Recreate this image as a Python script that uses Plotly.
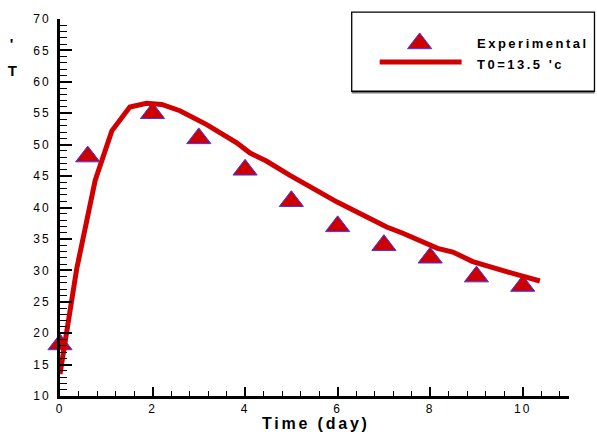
import plotly.graph_objects as go

# Measured temperatures (triangles)
time_exp = [0, 0.6, 2, 3, 4, 5, 6, 7, 8, 9, 10]
temp_exp = [18.2, 48.1, 55.0, 51.0, 46.0, 41.0, 37.0, 34.0, 32.0, 29.0, 27.5]

# Simulated curve for initial temperature T0 = 13.5 'c
time_model = [0, 0.36, 0.76, 1.12, 1.51, 1.87, 2.2, 2.59, 3.17, 3.82, 4.1, 4.46,
              4.97, 5.22, 5.62, 5.98, 6.33, 6.7, 7.06, 7.41, 7.99, 8.16, 8.49,
              8.92, 9.65, 10.37]
temp_model = [13.5, 30.2, 44.3, 52.2, 56.0, 56.6, 56.4, 55.4, 53.2, 50.3, 48.7,
              47.4, 45.1, 44.0, 42.4, 40.9, 39.6, 38.2, 36.9, 35.9, 34.1, 33.5,
              32.9, 31.4, 29.8, 28.3]

x_ticks = [0, 2, 4, 6, 8, 10]
y_ticks = [10, 15, 20, 25, 30, 35, 40, 45, 50, 55, 60, 65, 70]
legend_labels = ["Experimental", "T0=13.5 'c"]
x_title = "Time (day)"
y_title = ["'", "T"]

FONT = "Liberation Sans, Arial, sans-serif"
RED = "#D00000"
TRI_FILL = "#CC0000"
TRI_EDGE = "#3A3AFF"

W, H = 597, 437
ML, MR, MT, MB = 60, 27.5, 15, 41
PW, PH = W - ML - MR, H - MT - MB


def px(x_pix, y_pix):
    """Window pixel -> paper coordinates."""
    return (x_pix - ML) / PW, (H - MB - y_pix) / PH


tri_marker = dict(symbol="triangle-up", size=21, color=TRI_FILL,
                  line=dict(color=TRI_EDGE, width=1))

fig = go.Figure()
fig.add_trace(go.Scatter(x=time_exp, y=temp_exp, mode="markers",
                         marker=tri_marker, cliponaxis=False,
                         name=legend_labels[0], showlegend=False))
fig.add_trace(go.Scatter(x=time_model, y=temp_model, mode="lines",
                         line=dict(color=RED, width=5), cliponaxis=False,
                         name=legend_labels[1], showlegend=False))

# Legend key: triangle sample drawn on an overlay axis spanning paper space
lx, ly = px(420, 39.7)
fig.add_trace(go.Scatter(x=[lx], y=[ly], mode="markers", marker=tri_marker,
                         xaxis="x2", yaxis="y2", cliponaxis=False,
                         showlegend=False, hoverinfo="skip"))

shapes = []
bx0, by0 = px(352, 88)
bx1, by1 = px(595, 8)
shapes.append(dict(type="rect", xref="paper", yref="paper", x0=bx0, y0=by0,
                   x1=bx1, y1=by1, line=dict(color="black", width=1.3),
                   fillcolor="white", layer="below"))
sx0, sy = px(380, 58.5)
sx1, _ = px(462, 58.5)
shapes.append(dict(type="line", xref="paper", yref="paper", x0=sx0, y0=sy,
                   x1=sx1, y1=sy, line=dict(color=RED, width=5)))
gy0 = px(352, 89.5)[1]
shapes.append(dict(type="line", xref="paper", yref="paper", x0=bx0, y0=gy0,
                   x1=bx1, y1=gy0, line=dict(color="#777777", width=1.5)))

annotations = []
for label, ypix in zip(legend_labels, [40, 61]):
    ax_, ay_ = px(475, ypix)
    annotations.append(dict(x=ax_, y=ay_, xref="paper", yref="paper",
                            text="<b>%s</b>" % label, showarrow=False,
                            xanchor="left", yanchor="middle", align="left",
                            font=dict(family=FONT, size=13, color="black")))
tx, ty = px(260, 424)
annotations.append(dict(x=tx, y=ty, xref="paper", yref="paper",
                        text="<b>%s</b>" % x_title, showarrow=False,
                        xanchor="left", yanchor="middle", align="left",
                        font=dict(family=FONT, size=16, color="black")))
for ch, ypix in zip(y_title, [40, 67]):
    ax_, ay_ = px(13, ypix)
    annotations.append(dict(x=ax_, y=ay_, xref="paper", yref="paper",
                            text="<b>%s</b>" % ch, showarrow=False,
                            xanchor="center", yanchor="middle",
                            font=dict(family=FONT, size=15, color="black")))

fig.update_layout(
    width=W, height=H,
    margin=dict(l=ML, r=MR, t=MT, b=MB, pad=0),
    paper_bgcolor="white", plot_bgcolor="white",
    font=dict(family=FONT, size=12, color="black"),
    shapes=shapes, annotations=annotations,
    xaxis=dict(range=[0, 11], tickvals=x_ticks, showgrid=False, zeroline=False,
               showline=True, linecolor="black", linewidth=3,
               ticks="inside", ticklen=9, tickwidth=2, tickcolor="black",
               minor=dict(dtick=0.4, tick0=0, ticks="inside", ticklen=5,
                          tickwidth=1.3, tickcolor="black", showgrid=False),
               tickfont=dict(family=FONT, size=12)),
    yaxis=dict(range=[10, 70], tickvals=y_ticks, showgrid=False, zeroline=False,
               showline=True, linecolor="black", linewidth=3,
               ticks="inside", ticklen=12, tickwidth=2, tickcolor="black",
               ticklabelstandoff=4,
               minor=dict(dtick=1, tick0=10, ticks="inside", ticklen=7,
                          tickwidth=1.3, tickcolor="black", showgrid=False),
               tickfont=dict(family=FONT, size=12)),
    xaxis2=dict(overlaying="x", range=[0, 1], visible=False),
    yaxis2=dict(overlaying="y", range=[0, 1], visible=False),
)

# Wider letter spacing on axis and annotation text
post_script = """
var gd = document.getElementById('{plot_id}');
gd.querySelectorAll('.xtick text, .ytick text').forEach(function(t){ t.style.letterSpacing = '2px'; });
var ann = gd.querySelectorAll('.annotation-text');
ann.forEach(function(t){ t.style.letterSpacing = '2.5px'; });
if (ann.length > 2) { ann[2].style.letterSpacing = '2.8px'; }
"""

fig.write_html("out.html", post_script=post_script)
